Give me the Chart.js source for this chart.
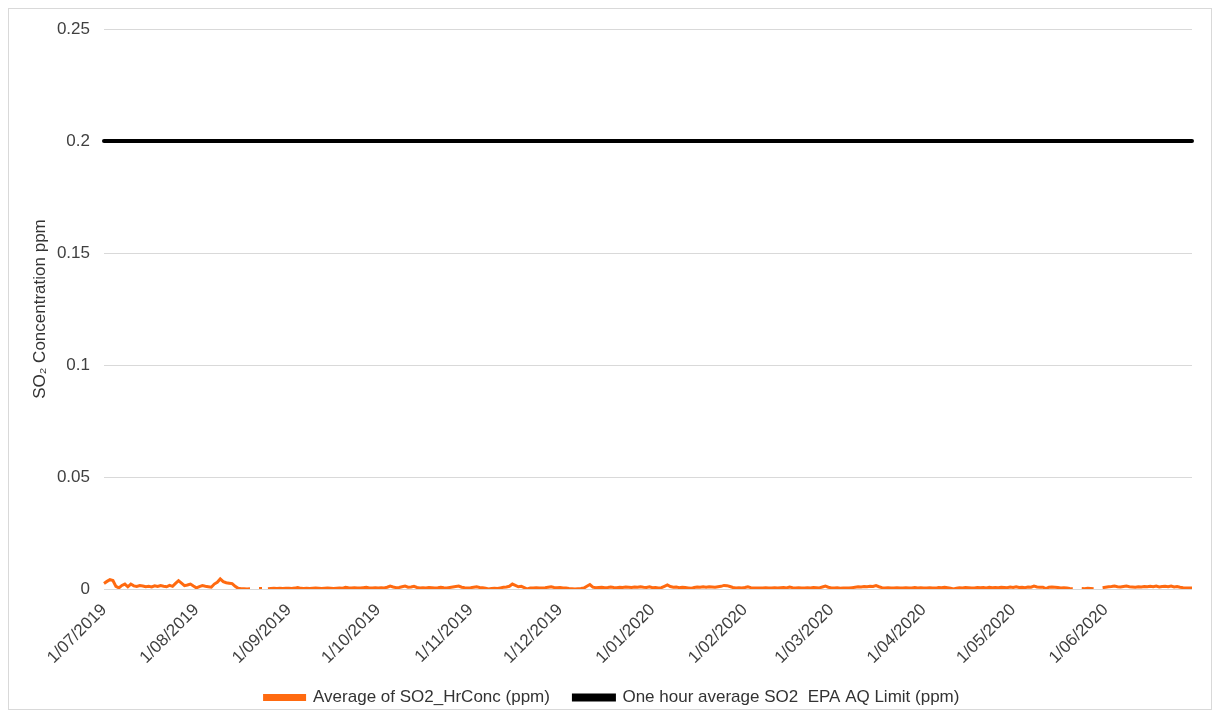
<!DOCTYPE html>
<html>
<head>
<meta charset="utf-8">
<title>SO2 Concentration</title>
<script src="https://cdn.jsdelivr.net/npm/chart.js@4.4.1/dist/chart.umd.min.js"></script>
<style>
  html, body { margin: 0; padding: 0; background: #ffffff; }
  #wrap { position: relative; width: 1220px; height: 718px; }
  #frame { position: absolute; left: 8px; top: 8px; width: 1204px; height: 702px;
           border: 1px solid #d9d9d9; box-sizing: border-box; }
  #c { position: absolute; left: 0; top: 0; }
</style>
</head>
<body>
<div id="wrap">
  <div id="frame"></div>
  <canvas id="c" width="1220" height="718"></canvas>
</div>
<script>
// Daily average SO2 hourly concentration (ppm), one array per month; null = no data
const so2Jul2019 = [0.0025,0.0034,0.0042,0.0038,0.0012,0.0005,0.0016,0.0022,0.0010,0.0022,
  0.0014,0.0011,0.0015,0.0013,0.0010,0.0012,0.0009,0.0014,0.0011,0.0015,
  0.0012,0.0010,0.0016,0.0012,0.0025,0.0037,0.0026,0.0015,0.0018,0.0022,0.0013];
const so2Aug2019 = [0.0005,0.0011,0.0015,0.0012,0.0010,0.0008,0.0022,0.0030,0.0045,0.0033,
  0.0028,0.0026,0.0024,0.0012,0.0003,0.0001,0.0001,0.0000,0.0001,null,
  null,0.0002,0.0002,null,0.0001,0.0002,0.0003,0.0002,0.0003,0.0002,0.0003];
const so2Sep2019 = [0.0003,0.0002,0.0004,0.0007,0.0003,0.0002,0.0003,0.0002,0.0003,0.0004,
  0.0003,0.0002,0.0003,0.0004,0.0003,0.0002,0.0003,0.0004,0.0003,0.0008,
  0.0006,0.0005,0.0006,0.0005,0.0004,0.0006,0.0008,0.0005,0.0005,0.0006];
const so2Oct2019 = [0.0005,0.0006,0.0005,0.0008,0.0013,0.0009,0.0006,0.0007,0.0010,0.0013,
  0.0008,0.0009,0.0012,0.0007,0.0005,0.0006,0.0005,0.0007,0.0006,0.0005,
  0.0006,0.0008,0.0006,0.0005,0.0007,0.0009,0.0011,0.0013,0.0008,0.0006,0.0005];
const so2Nov2019 = [0.0006,0.0008,0.0010,0.0007,0.0006,0.0003,0.0000,0.0002,0.0003,0.0002,
  0.0005,0.0008,0.0009,0.0012,0.0022,0.0016,0.0010,0.0012,0.0006,0.0000,
  0.0004,0.0005,0.0006,0.0004,0.0005,0.0006,0.0008,0.0010,0.0007,0.0006];
const so2Dec2019 = [0.0007,0.0005,0.0004,0.0002,0.0001,0.0000,0.0001,0.0002,0.0004,0.0012,
  0.0020,0.0008,0.0006,0.0007,0.0008,0.0006,0.0007,0.0009,0.0007,0.0006,
  0.0008,0.0007,0.0009,0.0008,0.0007,0.0009,0.0008,0.0010,0.0008,0.0007,0.0010];
const so2Jan2020 = [0.0006,0.0007,0.0005,0.0006,0.0012,0.0018,0.0011,0.0008,0.0009,0.0006,
  0.0008,0.0007,0.0005,0.0003,0.0007,0.0009,0.0008,0.0010,0.0008,0.0010,
  0.0009,0.0008,0.0010,0.0012,0.0016,0.0015,0.0011,0.0007,0.0005,0.0006,0.0005];
const so2Feb2020 = [0.0007,0.0010,0.0006,0.0004,0.0005,0.0004,0.0005,0.0006,0.0005,0.0004,
  0.0006,0.0005,0.0006,0.0007,0.0005,0.0009,0.0006,0.0005,0.0006,0.0004,
  0.0005,0.0006,0.0005,0.0007,0.0006,0.0005,0.0009,0.0013,0.0008];
const so2Mar2020 = [0.0005,0.0004,0.0005,0.0003,0.0004,0.0005,0.0004,0.0006,0.0008,0.0010,
  0.0009,0.0011,0.0010,0.0012,0.0011,0.0015,0.0010,0.0006,0.0005,0.0006,
  0.0004,0.0005,0.0006,0.0004,0.0005,0.0006,0.0004,0.0005,0.0007,0.0005,0.0006];
const so2Apr2020 = [0.0005,0.0004,0.0006,0.0005,0.0004,0.0007,0.0006,0.0008,0.0006,0.0004,
  0.0000,0.0003,0.0006,0.0005,0.0007,0.0006,0.0004,0.0005,0.0007,0.0006,
  0.0007,0.0005,0.0008,0.0006,0.0007,0.0006,0.0008,0.0007,0.0006,0.0009];
const so2May2020 = [0.0007,0.0010,0.0007,0.0008,0.0006,0.0009,0.0008,0.0013,0.0009,0.0008,
  0.0008,0.0002,0.0008,0.0009,0.0008,0.0007,0.0005,0.0006,0.0004,0.0002,
  0.0001,null,null,0.0002,0.0001,0.0003,0.0002,0.0001,null,null,0.0006];
const so2Jun2020 = [0.0008,0.0010,0.0011,0.0013,0.0010,0.0009,0.0011,0.0013,0.0010,0.0009,
  0.0008,0.0010,0.0009,0.0011,0.0010,0.0012,0.0010,0.0013,0.0009,0.0011,
  0.0012,0.0010,0.0013,0.0009,0.0011,0.0008,0.0006,0.0005,0.0004,0.0004];

// Month suffixes (mm/yyyy) matching the monthly arrays above
const monthKeys = ['07/2019','08/2019','09/2019','10/2019','11/2019','12/2019',
                   '01/2020','02/2020','03/2020','04/2020','05/2020','06/2020'];
const monthlySo2 = [so2Jul2019, so2Aug2019, so2Sep2019, so2Oct2019, so2Nov2019, so2Dec2019,
                    so2Jan2020, so2Feb2020, so2Mar2020, so2Apr2020, so2May2020, so2Jun2020];

// Labelled ticks on the date axis
const tickLabels = ['1/07/2019','1/08/2019','1/09/2019','1/10/2019','1/11/2019','1/12/2019',
                    '1/01/2020','1/02/2020','1/03/2020','1/04/2020','1/05/2020','1/06/2020'];

// One hour average SO2 EPA air-quality limit (ppm)
const epaLimitPpm = 0.2;

const yTicks = [0, 0.05, 0.1, 0.15, 0.2, 0.25];

// Daily category labels d/mm/yyyy and the concatenated series
const days = [];
const so2Daily = [];
monthlySo2.forEach((vals, m) => {
  vals.forEach((v, i) => {
    days.push((i + 1) + '/' + monthKeys[m]);
    so2Daily.push(v);
  });
});
const limitDaily = days.map(() => epaLimitPpm);

const FONT = '"Liberation Sans", Arial, Helvetica, sans-serif';
const FS = 17;

// Nudge the legend row slightly right of the canvas centre
const legendShift = {
  id: 'legendShift',
  afterLayout(chart) {
    const lg = chart.legend;
    if (lg) { lg.left += 6; lg.right += 6; }
  }
};

new Chart(document.getElementById('c'), {
  type: 'line',
  data: {
    labels: days,
    datasets: [
      {
        label: 'Average of SO2_HrConc (ppm)',
        data: so2Daily,
        borderColor: '#ff6a10',
        backgroundColor: '#ff6a10',
        borderWidth: 3,
        pointRadius: 0,
        tension: 0,
        spanGaps: false,
        order: 1
      },
      {
        label: 'One hour average SO2  EPA AQ Limit (ppm)',
        data: limitDaily,
        borderColor: '#000000',
        backgroundColor: '#000000',
        borderWidth: 4,
        pointRadius: 0,
        borderCapStyle: 'round',
        order: 2
      }
    ]
  },
  plugins: [legendShift],
  options: {
    responsive: false,
    animation: false,
    devicePixelRatio: 1,
    layout: { padding: { left: 20, right: 28, top: 29, bottom: 2 } },
    plugins: {
      tooltip: { enabled: false },
      legend: {
        position: 'bottom',
        labels: {
          boxWidth: 40,
          boxHeight: 4,
          padding: 24,
          color: '#333333',
          font: { family: FONT, size: FS }
        }
      }
    },
    scales: {
      x: {
        type: 'category',
        offset: false,
        grid: { display: false },
        border: { display: false },
        afterFit: (scale) => { scale.height = 76; },
        ticks: {
          autoSkip: false,
          minRotation: 45,
          maxRotation: 45,
          padding: 3,
          color: '#404040',
          font: { family: FONT, size: FS },
          callback: function (value) {
            const lbl = this.getLabelForValue(value);
            return tickLabels.includes(lbl) ? lbl : null;
          }
        }
      },
      y: {
        min: 0,
        max: 0.25,
        afterBuildTicks: (scale) => { scale.ticks = yTicks.map(v => ({ value: v })); },
        afterFit: (scale) => { scale.width = 84; },
        grid: { color: '#d9d9d9', lineWidth: 1, drawTicks: false },
        border: { display: false },
        ticks: {
          padding: 14,
          color: '#404040',
          font: { family: FONT, size: FS },
          callback: (v) => String(Number(v.toFixed(2)))
        },
        title: {
          display: true,
          text: 'SO₂ Concentration ppm',
          color: '#333333',
          padding: { top: 10, bottom: 4 },
          font: { family: FONT, size: FS }
        }
      }
    }
  }
});
</script>
</body>
</html>
